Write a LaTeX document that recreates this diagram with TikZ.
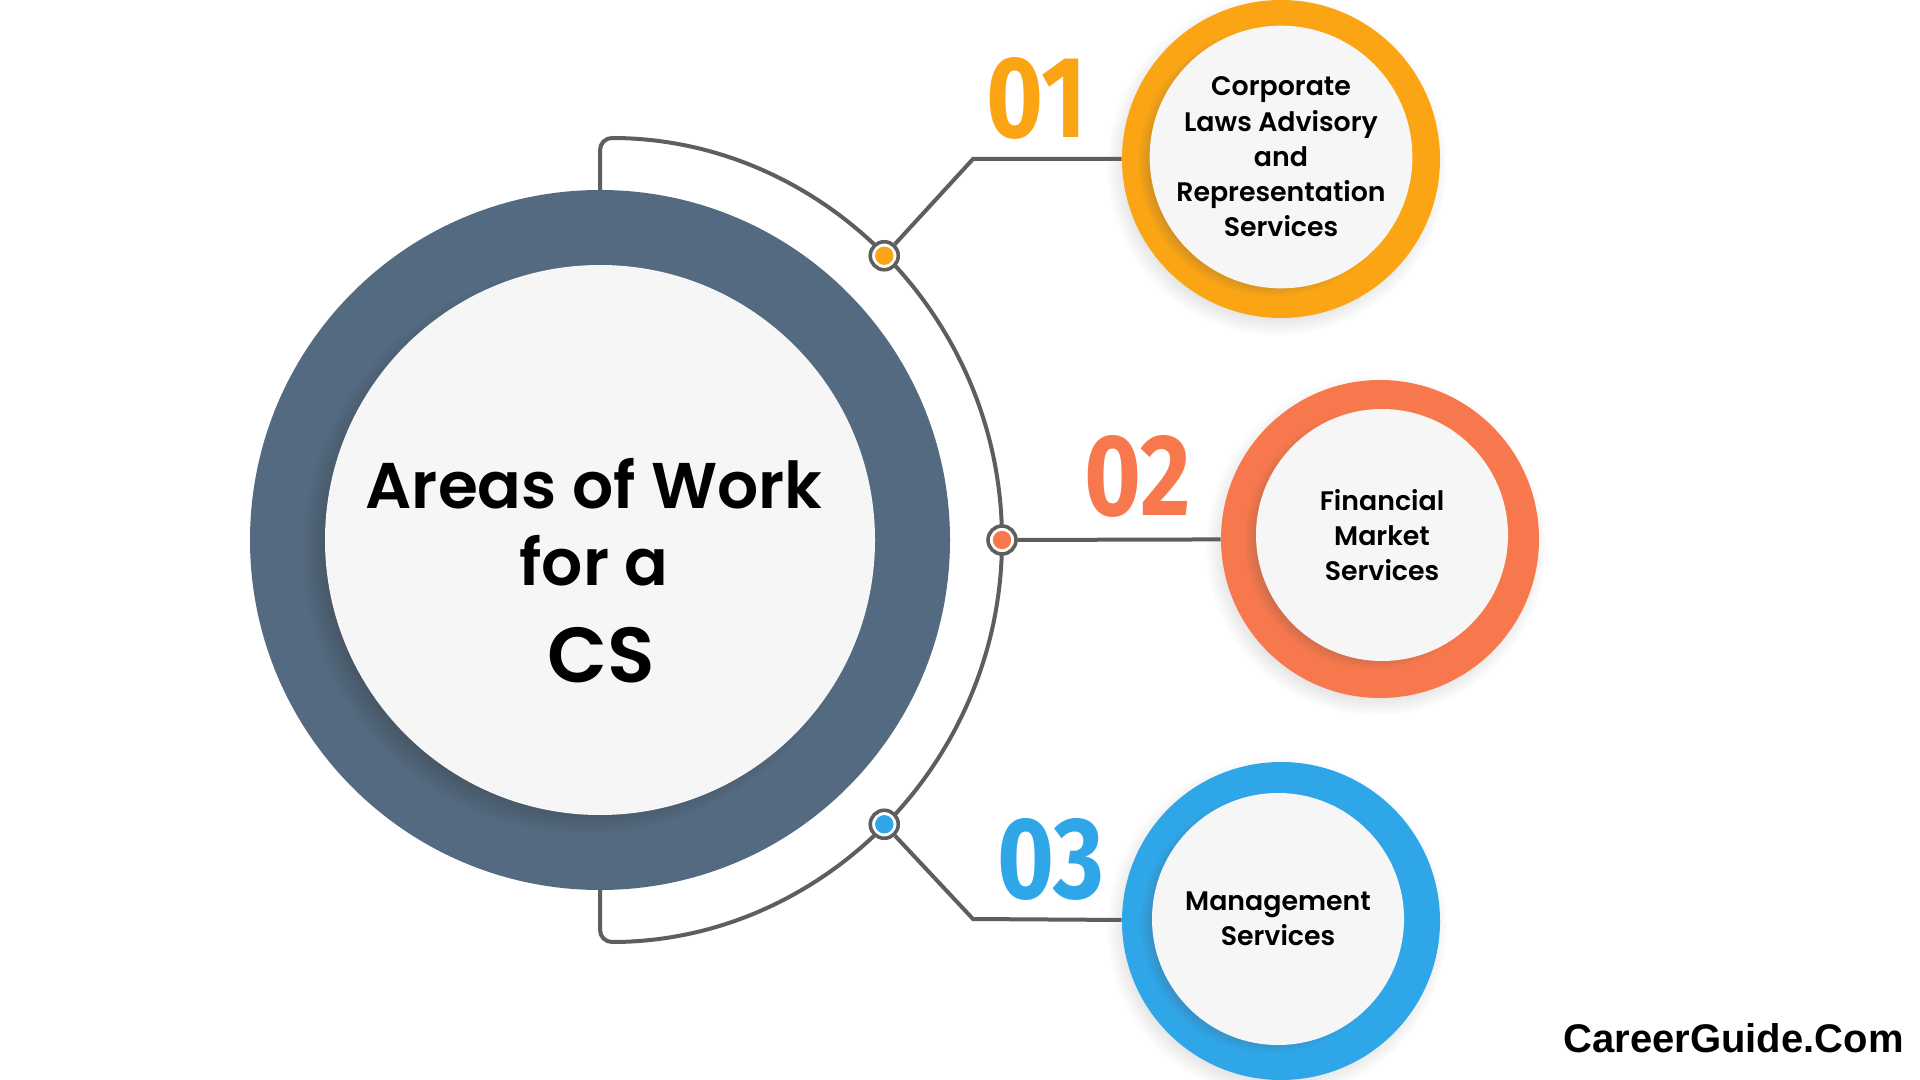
\documentclass[tikz,border=0pt]{standalone}
\usepackage{fontspec}
\setmainfont{Poppins}
\newfontfamily\popsb{Poppins SemiBold}
\newfontfamily\popmd{Poppins Medium}
\newfontfamily\numfont{Fira Sans}
\newfontfamily\wmfont{Liberation Sans}
\usetikzlibrary{shadows,calc}
\definecolor{cOrange}{HTML}{FBA514}
\definecolor{cCoral}{HTML}{F7784D}
\definecolor{cBlue}{HTML}{2FA6E8}
\definecolor{cSlate}{HTML}{536A80}
\definecolor{cLight}{HTML}{F6F6F6}
\definecolor{cLine}{HTML}{5E5E5E}
\tikzset{
  gline/.style={draw=cLine, line width=2pt},
  bigring/.style={circle, inner sep=0pt, minimum size=350pt, fill=cSlate},
  bigin/.style={circle, inner sep=0pt, minimum size=275pt, fill=cLight,
    circular drop shadow={shadow xshift=-7pt, shadow yshift=-5pt, shadow scale=1.03, opacity=0.55, fill=black!80}},
  ring/.style={circle, inner sep=0pt, minimum size=159pt, fill=#1,
    circular drop shadow={shadow xshift=-2pt, shadow yshift=-3pt, shadow scale=1.07, opacity=0.22, fill=black!60}},
  ringin/.style={circle, inner sep=0pt, minimum size=126pt, fill=cLight, align=center,
    font=\popsb\fontsize{13.4}{17.6}\selectfont,
    circular drop shadow={shadow xshift=-4pt, shadow yshift=-2pt, shadow scale=1.03, opacity=0.35, fill=black!70}},
  dotn/.style={circle, inner sep=0pt, minimum size=14pt, draw=cLine, line width=1.8pt, fill=white,
    path picture={\fill[#1] (path picture bounding box.center) circle (4.6pt);}},
  numlbl/.style={inner sep=0pt, font=\numfont\bfseries\fontsize{58}{58}\selectfont},
  titletxt/.style={anchor=base, inner sep=0pt, font=\popsb\fontsize{32.3}{40}\selectfont},
}
\begin{document}
\begin{tikzpicture}[x=0.5pt, y=-0.5pt]
\fill[white] (0,0) rectangle (1920,1080);
\useasboundingbox (0,0) rectangle (1920,1080);
\coordinate (C) at (600,540);
% big thin arc behind the main circle
\draw[gline, rounded corners=6pt] (600,400) -- (600,138) arc[start angle=-90, end angle=90, radius=402] -- (600,680);
% main circle
\node[bigring] (main) at (C) {};
\node[bigin] (mainin) at (C) {};
\node[titletxt] (t1) at (594,508) {Areas of Work};
\node[titletxt] (t2) at (594,585) {for a};
\node[titletxt, font=\popsb\fontsize{39}{44}\selectfont] (t3) at (601,682) {CS};
% outer rings
\node[ring=cOrange] (n1) at (1281,159) {};
\node[ringin] (n1in) at (1281,157) {Corporate\\Laws Advisory\\and\\Representation\\Services};
\node[ring=cCoral] (n2) at (1380,539) {};
\node[ringin] (n2in) at (1382,535) {Financial\\Market\\Services};
\node[ring=cBlue] (n3) at (1281,921) {};
\node[ringin] (n3in) at (1278,919) {Management\\Services};
% dots on the arc
\node[dotn=cOrange] (d1) at ($(C)+(-45:402)$) {};
\node[dotn=cCoral] (d2) at ($(C)+(0:402)$) {};
\node[dotn=cBlue] (d3) at ($(C)+(45:402)$) {};
% connectors
\coordinate (k1) at (973,159);
\coordinate (k3) at (973,919);
\draw[gline] (d1) -- (k1) -- (n1);
\draw[gline] (d2) -- (n2);
\draw[gline] (d3) -- (k3) -- (n3);
% numbers
\node[numlbl, text=cOrange] (l1) at (1037,98) {\scalebox{0.84}[1]{01}};
\node[numlbl, text=cCoral] (l2) at (1138,476) {\scalebox{0.84}[1]{02}};
\node[numlbl, text=cBlue] (l3) at (1051,859) {\scalebox{0.84}[1]{03}};
% watermark
\node[anchor=base east, inner sep=0pt, font=\wmfont\bfseries\fontsize{20}{24}\selectfont] (wm) at (1904,1052) {CareerGuide.Com};
\end{tikzpicture}
\end{document}
